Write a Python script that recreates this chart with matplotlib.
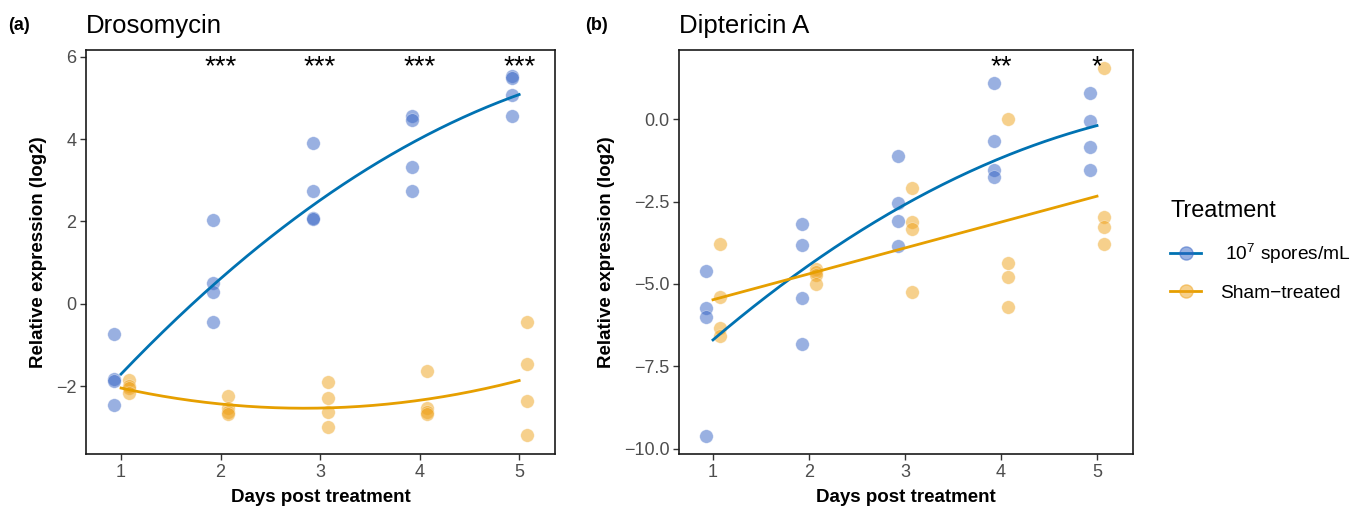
import numpy as np
import matplotlib
matplotlib.use("Agg")
import matplotlib.pyplot as plt
from matplotlib.lines import Line2D

plt.rcParams['font.family'] = ['Liberation Sans', 'DejaVu Sans']
plt.rcParams['mathtext.fontset'] = 'custom'
plt.rcParams['mathtext.rm'] = 'Liberation Sans'
plt.rcParams['mathtext.it'] = 'Liberation Sans:italic'
plt.rcParams['mathtext.bf'] = 'Liberation Sans:bold'

days = [1, 2, 3, 4, 5]

# Drosomycin (panel a)
dros_spore = [
    [-0.73, -1.83, -1.88, -2.46],
    [2.04, 0.50, 0.30, -0.44],
    [3.90, 2.75, 2.09, 2.07],
    [4.55, 4.46, 3.33, 2.75],
    [5.53, 5.49, 5.08, 4.56],
]
dros_sham = [
    [-1.84, -1.99, -2.05, -2.17],
    [-2.23, -2.53, -2.61, -2.67],
    [-1.90, -2.27, -2.61, -2.99],
    [-1.62, -2.53, -2.63, -2.68],
    [-0.43, -1.45, -2.36, -3.19],
]
dros_stars = ["", "***", "***", "***", "***"]

# Diptericin A (panel b)
dipt_spore = [
    [-4.62, -5.74, -6.01, -9.61],
    [-3.18, -3.81, -5.43, -6.83],
    [-1.13, -2.53, -3.10, -3.85],
    [1.10, -0.65, -1.54, -1.74],
    [0.79, -0.06, -0.85, -1.55],
]
dipt_sham = [
    [-3.80, -5.41, -6.33, -6.58],
    [-4.54, -4.65, -4.74, -5.01],
    [-2.09, -3.12, -3.32, -5.25],
    [0.00, -4.37, -4.79, -5.71],
    [1.56, -2.96, -3.26, -3.78],
]
dipt_stars = ["", "", "", "**", "*"]

treatments = [" $10^{7}$ spores/mL", "Sham\u2212treated"]
line_colors = ["#0072B2", "#E69F00"]
point_colors = ["#3463C4", "#EFA21A"]
offsets = [-0.075, 0.075]

W, H = 1362, 513
fig = plt.figure(figsize=(W / 100, H / 100), dpi=100)


def px_axes(l, t, r, b):
    return fig.add_axes([l / W, 1 - b / H, (r - l) / W, (b - t) / H])


def panel(ax, spore, sham, stars, fit_deg, star_y, title, tag, tagx, xlim, ylim, yticks, yfmt):
    for k, series in enumerate([spore, sham]):
        xs, ys = [], []
        for d, vals in zip(days, series):
            for v in vals:
                xs.append(d)
                ys.append(v)
        xs = np.array(xs, float)
        ys = np.array(ys, float)
        ax.scatter(xs + offsets[k], ys, s=95, color=point_colors[k], alpha=0.5,
                   edgecolors='white', linewidths=0.4, zorder=2)
        coef = np.polyfit(xs, ys, fit_deg[k])
        xx = np.linspace(1, 5, 200)
        ax.plot(xx, np.polyval(coef, xx), color=line_colors[k], lw=2.0, zorder=3)
    for d, s in zip(days, stars):
        if s:
            ax.text(d, star_y, s, ha='center', va='baseline', fontsize=20, color='black')
    ax.set_xlim(*xlim)
    ax.set_ylim(*ylim)
    ax.set_xticks(days)
    ax.set_yticks(yticks)
    ax.set_yticklabels([yfmt(v) for v in yticks])
    ax.tick_params(axis='both', labelsize=13, colors='#333333', labelcolor='#4d4d4d',
                   length=4, width=1.0, direction='out', pad=3)
    for sp in ax.spines.values():
        sp.set_linewidth(1.2)
        sp.set_color('#1a1a1a')
    ax.set_xlabel("Days post treatment", fontsize=13.5, fontweight='bold', labelpad=6)
    ax.set_ylabel("Relative expression (log2)", fontsize=13.5, fontweight='bold', labelpad=6)
    ax.set_title(title, fontsize=18.5, loc='left', pad=12, x=0.0)
    fig.text(tagx / W, 1 - 25 / H, tag, fontsize=13, fontweight='bold', ha='left', va='center')


ax1 = px_axes(86, 50, 555, 454)
panel(ax1, dros_spore, dros_sham, dros_stars, [2, 2], 5.57, "Drosomycin", "(a)", 8,
      (0.648, 5.36), (-3.64, 6.16), [-2, 0, 2, 4, 6], lambda v: f"{v:.0f}".replace('-', '\u2212'))

ax2 = px_axes(679, 50, 1133, 454)
panel(ax2, dipt_spore, dipt_sham, dipt_stars, [2, 1], 1.36, "Diptericin A", "(b)", 585,
      (0.646, 5.375), (-10.16, 2.10), [-10.0, -7.5, -5.0, -2.5, 0.0],
      lambda v: f"{v:.1f}".replace('-', '\u2212'))

handles = []
for k in range(2):
    ln = Line2D([], [], color=line_colors[k], lw=2.0)
    mk = Line2D([], [], color=point_colors[k], marker='o', markersize=9.5, alpha=0.5, lw=0)
    handles.append((ln, mk))
leg = fig.legend(handles, treatments, loc='upper left', bbox_to_anchor=(1153 / W, 1 - 182 / H),
                 frameon=False, title="Treatment", title_fontsize=16.8, fontsize=13.8,
                 handlelength=1.6, labelspacing=1.0, handletextpad=1.0, alignment='left')

fig.savefig("out.png", dpi=100)
